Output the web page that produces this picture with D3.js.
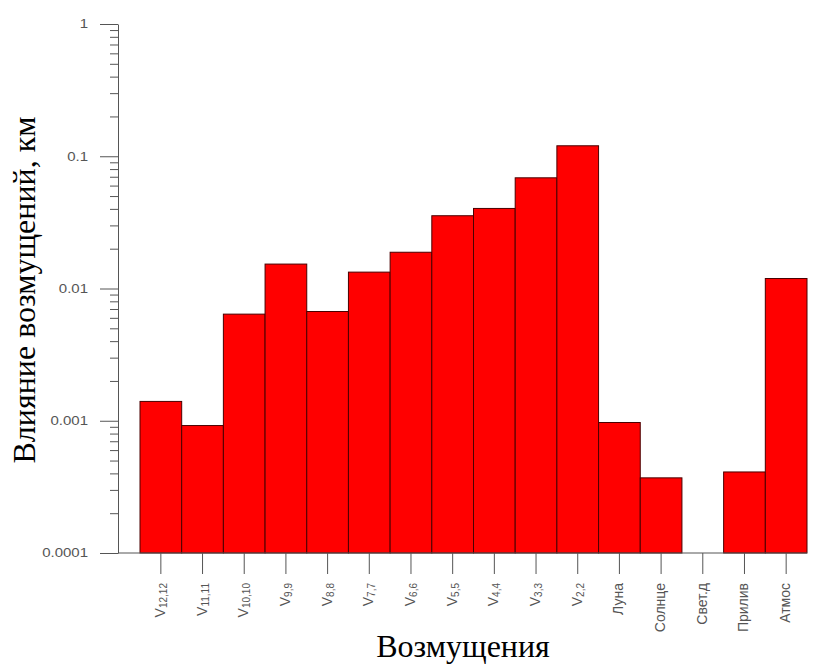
<!DOCTYPE html>
<html>
<head>
<meta charset="utf-8" />
<title>Влияние возмущений</title>
<script src="https://d3js.org/d3.v7.min.js"></script>
<style>
body { margin:0; background:#fff; }
.axis path, .axis line { stroke:#555; }
.axis text { fill:#555; font-family:"Liberation Sans", Arial, sans-serif; }
</style>
</head>
<body>
<div id="chart"></div>
<script>

// categories (main symbol + subscript)
var labels = ["V", "V", "V", "V", "V", "V", "V", "V", "V", "V", "V", "Луна", "Солнце", "Свет.д", "Прилив", "Атмос"]
var subs = ["12,12", "11,11", "10,10", "9,9", "8,8", "7,7", "6,6", "5,5", "4,4", "3,3", "2,2", "", "", "", "", ""]
// influence, km
var values = [0.0014, 0.00092, 0.0064, 0.0153, 0.0067, 0.0133, 0.0188, 0.0355, 0.0403, 0.0687, 0.12, 0.00097, 0.00037, 0.0001, 0.00041, 0.0119]
var yTicks = [1, 0.1, 0.01, 0.001, 0.0001]
var yTickLabels = ["1", "0.1", "0.01", "0.001", "0.0001"]

var size = {width:814, height:666}
var margin = {top:24, bottom:113, left:118, right:7}
var plotLeft = 140

var svg = d3.select("#chart").append("svg")
	.attr("width", size.width)
	.attr("height", size.height)

var keys = labels.map(function(d, i) { return i })

var x = d3.scaleBand()
	.domain(keys)
	.range([plotLeft, size.width - margin.right])
	.padding(0)

var y = d3.scaleLog()
	.domain([0.0001, 1])
	.range([size.height - margin.bottom, margin.top])

// minor ticks
var minor = []
yTicks.slice(1).forEach(function(t) {
	for (var k = 2; k < 10; k++) minor.push(t * k)
})

svg.append("g")
	.attr("class", "axis")
	.attr("transform", "translate(" + margin.left + ",0)")
	.call(d3.axisLeft(y).tickValues(minor).tickSize(8).tickFormat(""))
	.call(function(g) { g.select(".domain").remove() })

// bars
svg.append("g").selectAll("rect")
	.data(values)
	.join("rect")
	.attr("x", function(d, i) { return x(i) })
	.attr("width", x.bandwidth())
	.attr("y", function(d) { return y(d) })
	.attr("height", function(d) { return y(0.0001) - y(d) })
	.attr("fill", "#ff0000")
	.attr("stroke", "#4a0000")
	.attr("stroke-width", 1)

// y axis
var yAxis = svg.append("g")
	.attr("class", "axis")
	.attr("transform", "translate(" + margin.left + ",0)")
	.call(d3.axisLeft(y).tickValues(yTicks).tickSize(18).tickSizeOuter(0)
		.tickFormat(function(d, i) { return yTickLabels[i] }))
yAxis.selectAll("text")
	.attr("font-size", 12)
	.attr("x", 0)
	.attr("transform", "translate(-30,0) scale(1.25,1)")

// x axis
var xAxis = svg.append("g")
	.attr("class", "axis")
	.attr("transform", "translate(0," + y(0.0001) + ")")
	.call(d3.axisBottom(x).tickSize(21).tickSizeOuter(0).tickFormat(""))
xAxis.select(".domain").remove()

xAxis.append("line")
	.attr("x1", margin.left)
	.attr("x2", x.range()[1])
	.attr("stroke", "#555")

xAxis.selectAll(".tick").each(function(d) {
	var t = d3.select(this).append("text")
		.attr("transform", "translate(4,30) rotate(-90)")
		.attr("text-anchor", "end")
		.attr("font-size", 14)
		.attr("fill", "#555")
	t.append("tspan").text(labels[d])
	if (subs[d]) {
		t.append("tspan").attr("font-size", 10).attr("dy", 2).text(subs[d])
	}
})

// axis titles
svg.append("text")
	.text("Возмущения")
	.attr("x", 463)
	.attr("y", 657)
	.attr("text-anchor", "middle")
	.attr("font-family", "'Liberation Serif', 'Times New Roman', serif")
	.attr("font-size", 32)
	.attr("fill", "#000")

svg.append("text")
	.text("Влияние возмущений, км")
	.attr("text-anchor", "middle")
	.attr("font-family", "'Liberation Serif', 'Times New Roman', serif")
	.attr("font-size", 32)
	.attr("fill", "#000")
	.attr("transform", "translate(35,290) rotate(-90)")

</script>
</body>
</html>
